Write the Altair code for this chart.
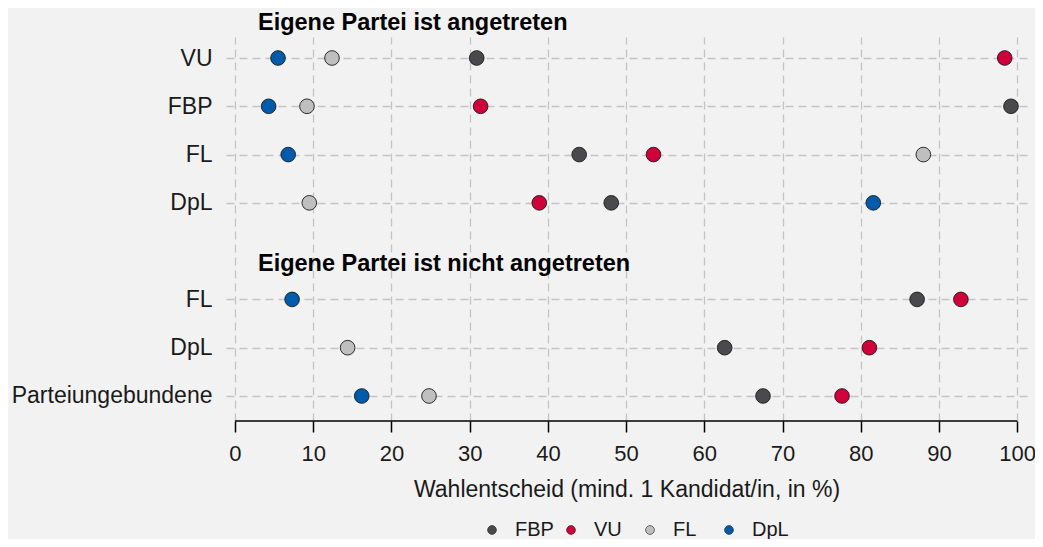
import altair as alt
import pandas as pd

# Rows (top to bottom); index 4 is the gap between the two groups
row_labels = ["VU", "FBP", "FL", "DpL", "", "FL", "DpL", "Parteiungebundene"]
row_index = [0, 1, 2, 3, 5, 6, 7]

parties = ["FBP", "VU", "FL", "DpL"]
colors = ["#4A4A4C", "#D0003A", "#BFBFBF", "#005BAA"]

# values per row (row_index order): None = not shown
fbp = [30.9, 99.2, 44.0, 48.1, 87.2, 62.6, 67.5]
vu = [98.4, 31.4, 53.5, 38.9, 92.8, 81.1, 77.6]
fl = [12.4, 9.2, 88.0, 9.5, None, 14.4, 24.8]
dpl = [5.5, 4.3, 6.8, 81.6, 7.3, None, 16.2]

headings = ["Eigene Partei ist angetreten", "Eigene Partei ist nicht angetreten"]
heading_rows = [0, 5]

x_ticks = list(range(0, 101, 10))
x_title = "Wahlentscheid (mind. 1 Kandidat/in, in %)"

rows = []
for series, name in zip([fbp, vu, fl, dpl], parties):
    for idx, v in zip(row_index, series):
        if v is not None:
            rows.append({"row": idx, "party": name, "value": v})
df = pd.DataFrame(rows)
hd = pd.DataFrame({"row": heading_rows, "text": headings})

FONT = "Liberation Sans"
W, H = 801, 384

label_expr = "[" + ",".join(f"'{l}'" for l in row_labels) + "][datum.value]"

xscale = alt.Scale(domain=[-1.15, 101.25], nice=False, zero=False)
yscale = alt.Scale(domain=[-0.435, 7.518], reverse=True, nice=False, zero=False)

points = alt.Chart(df).mark_point(
    filled=True, size=215, stroke="#1a1a1a", strokeWidth=0.9, opacity=1
).encode(
    x=alt.X("value:Q", scale=xscale, title=x_title,
            axis=alt.Axis(values=x_ticks, domain=False, tickSize=11, tickWidth=1.5,
                          tickColor="#000000", labelFontSize=22, labelFont=FONT,
                          labelColor="#1a1a1a", labelPadding=11, titleFontSize=23,
                          titleFont=FONT, titleFontWeight="normal", titleColor="#1a1a1a",
                          titlePadding=14, grid=True, gridDash=[8, 5],
                          gridColor="#c4c4c4", gridWidth=1.3)),
    y=alt.Y("row:Q", scale=yscale, title=None,
            axis=alt.Axis(values=row_index, labelExpr=label_expr, domain=False,
                          ticks=False, labelFontSize=23, labelFont=FONT,
                          labelColor="#1a1a1a", labelPadding=14, labelLimit=0,
                          grid=True, gridDash=[8, 5], gridColor="#c4c4c4",
                          gridWidth=1.3)),
    color=alt.Color("party:N", scale=alt.Scale(domain=parties, range=colors),
                    sort=parties,
                    legend=alt.Legend(title=None, orient="none", direction="horizontal",
                                      legendX=256, legendY=483, columns=4,
                                      gridAlign="all", columnPadding=7,
                                      symbolType="circle", symbolSize=78,
                                      symbolStrokeColor="#1a1a1a", symbolStrokeWidth=0.6,
                                      labelFontSize=20, labelFont=FONT,
                                      labelColor="#1a1a1a", labelOffset=13)),
)

axis_line = alt.Chart(pd.DataFrame({"a": [0]})).mark_rule(
    color="#000000", strokeWidth=1.5
).encode(x=alt.datum(0, scale=xscale), x2=alt.datum(100), y=alt.value(H))

heads = alt.Chart(hd).mark_text(
    align="left", baseline="middle", font=FONT, fontSize=23.5, fontWeight="bold",
    color="#000000", dx=23, dy=-35, clip=False
).encode(x=alt.datum(0), y=alt.Y("row:Q", scale=yscale), text="text:N")

chart = alt.layer(axis_line, points, heads).properties(
    width=W, height=H,
    autosize=alt.AutoSizeParams(type="none"),
    padding={"left": 218, "top": 29, "right": 8, "bottom": 118},
    background="#f2f2f2",
).configure_view(stroke=None)

chart.save("out.html", embed_options={"renderer": "svg", "actions": False})
